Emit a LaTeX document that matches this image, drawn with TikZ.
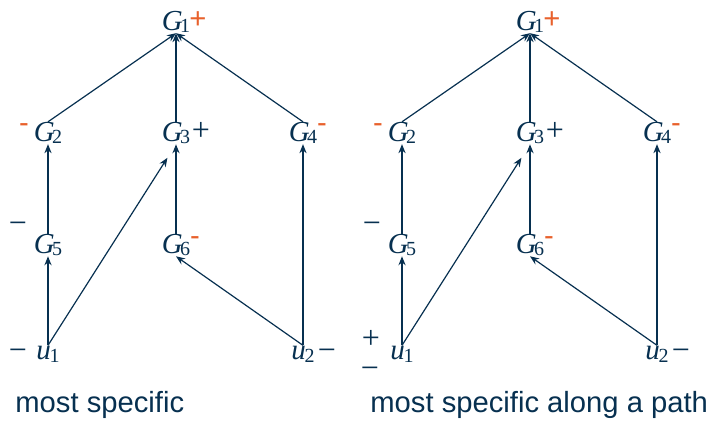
\documentclass[tikz,border=0pt]{standalone}
\usepackage{fontspec}
\setsansfont{Liberation Sans}
\newfontfamily\tms{Liberation Serif}
\usetikzlibrary{arrows.meta}
\definecolor{navy}{RGB}{7,48,80}
\definecolor{signorange}{RGB}{232,97,44}
\newcommand{\Gv}[1]{{\itshape G}\kern-1.4pt\raisebox{-1.2pt}{\fontsize{10}{10}\selectfont #1}}
\newcommand{\uv}[1]{{\itshape u}\kern-0.6pt\raisebox{-1.6pt}{\fontsize{10}{10}\selectfont #1}}
\tikzset{
    vert/.style={inner sep=0pt, text=navy, font={\tms\fontsize{14.5}{16}\selectfont}},
    nsgn/.style={inner sep=0pt, text=navy, font={\tms\fontsize{16}{17}\selectfont}},
    osgn/.style={inner sep=0pt, text=signorange, font={\sffamily\fontsize{14.6}{16}\selectfont}},
    lbl/.style={inner sep=0pt, text=navy, font={\sffamily\fontsize{14.6}{16}\selectfont}},
    arr/.style={-{Stealth[length=4.5pt, width=3.6pt]}, line width=0.6pt, navy}
}
\begin{document}
\begin{tikzpicture}[x=0.5pt, y=0.5pt]
    \useasboundingbox (0,0) rectangle (715,425);
    \node[vert] (G1a) at (176,403) {\Gv{1}};
    \node[vert] (G2a) at (48,292) {\Gv{2}};
    \node[vert] (G3a) at (176,292) {\Gv{3}};
    \node[vert] (G4a) at (303,292) {\Gv{4}};
    \node[vert] (G5a) at (48,180) {\Gv{5}};
    \node[vert] (G6a) at (176,180) {\Gv{6}};
    \node[vert] (u1a) at (48,71) {\uv{1}};
    \node[vert] (u2a) at (303,71) {\uv{2}};
    \node[osgn] (p1a) at (198,405) {+};
    \node[osgn] (p2a) at (24,297) {-};
    \node[nsgn] (p3a) at (201,294) {+};
    \node[osgn] (p4a) at (322,297) {-};
    \node[nsgn] (p5a) at (18,197) {−};
    \node[osgn] (p6a) at (195,184) {-};
    \node[nsgn] (p7a) at (18,70) {−};
    \node[nsgn] (p8a) at (327,70) {−};
    \draw[arr] (G2a.north) -- (G1a.south); \draw[arr] (G3a.north) -- (G1a.south); \draw[arr] (G4a.north) -- (G1a.south);
    \draw[arr] (G5a.north) -- (G2a.south); \draw[arr] (G6a.north) -- (G3a.south); \draw[arr] (u2a.north) -- (G4a.south);
    \draw[arr] (u1a.north) -- (G5a.south); \draw[arr, shorten >=8pt] (u1a.north) -- (G3a.south); \draw[arr] (u2a.north) -- (G6a.south);
    \node[lbl, anchor=base west] (capa) at (15,13) {most specific};

    \node[vert] (G1b) at (530,403) {\Gv{1}};
    \node[vert] (G2b) at (402,292) {\Gv{2}};
    \node[vert] (G3b) at (530,292) {\Gv{3}};
    \node[vert] (G4b) at (657,292) {\Gv{4}};
    \node[vert] (G5b) at (402,180) {\Gv{5}};
    \node[vert] (G6b) at (530,180) {\Gv{6}};
    \node[vert] (u1b) at (402,71) {\uv{1}};
    \node[vert] (u2b) at (657,71) {\uv{2}};
    \node[osgn] (p1b) at (552,405) {+};
    \node[osgn] (p2b) at (378,297) {-};
    \node[nsgn] (p3b) at (555,294) {+};
    \node[osgn] (p4b) at (676,297) {-};
    \node[nsgn] (p5b) at (372,197) {−};
    \node[osgn] (p6b) at (549,184) {-};
    \node[nsgn] (p7b) at (371,86) {+};
    \node[nsgn] (p8b) at (370,52) {−};
    \node[nsgn] (p9b) at (681,70) {−};
    \draw[arr] (G2b.north) -- (G1b.south); \draw[arr] (G3b.north) -- (G1b.south); \draw[arr] (G4b.north) -- (G1b.south);
    \draw[arr] (G5b.north) -- (G2b.south); \draw[arr] (G6b.north) -- (G3b.south); \draw[arr] (u2b.north) -- (G4b.south);
    \draw[arr] (u1b.north) -- (G5b.south); \draw[arr, shorten >=8pt] (u1b.north) -- (G3b.south); \draw[arr] (u2b.north) -- (G6b.south);
    \node[lbl, anchor=base west] (capb) at (370,13) {most specific along a path};
\end{tikzpicture}
\end{document}
